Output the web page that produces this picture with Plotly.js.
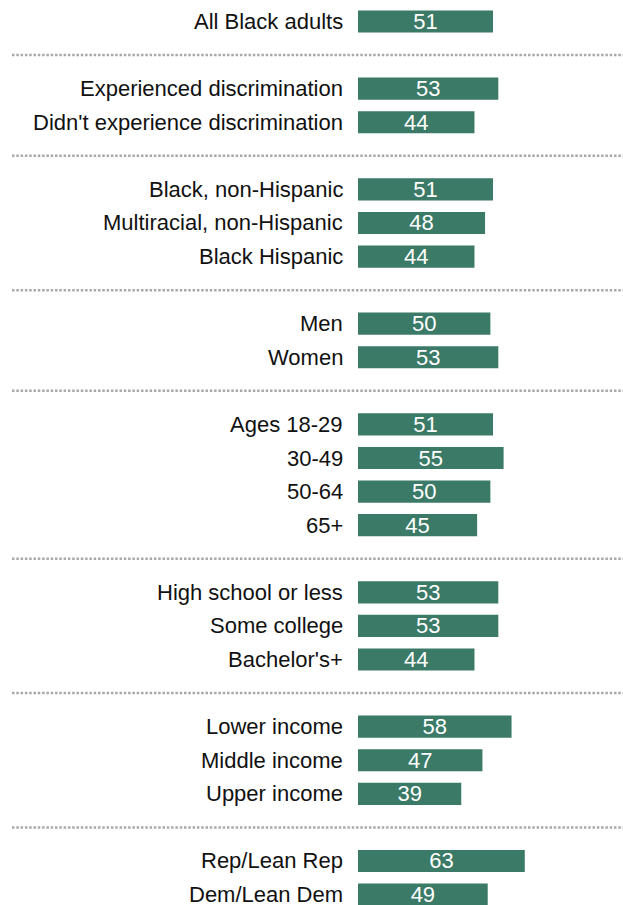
<!DOCTYPE html>
<html>
<head>
<meta charset="utf-8">
<script src="https://cdn.plot.ly/plotly-3.0.1.min.js"></script>
<style>html,body{margin:0;padding:0;background:#fff;}#chart{width:623px;height:905px;}</style>
</head>
<body>
<div id="chart"></div>
<script>
// Groups of categories (each group separated by a dotted rule)
const groupLabels = [
  ["All Black adults"],
  ["Experienced discrimination", "Didn't experience discrimination"],
  ["Black, non-Hispanic", "Multiracial, non-Hispanic", "Black Hispanic"],
  ["Men", "Women"],
  ["Ages 18-29", "30-49", "50-64", "65+"],
  ["High school or less", "Some college", "Bachelor's+"],
  ["Lower income", "Middle income", "Upper income"],
  ["Rep/Lean Rep", "Dem/Lean Dem"]
];
const groupValues = [
  [51],
  [53, 44],
  [51, 48, 44],
  [50, 53],
  [51, 55, 50, 45],
  [53, 53, 44],
  [58, 47, 39],
  [63, 49]
];

// Build categorical axis with blank separator slots between groups
const cats = [], vals = [], labels = [], seps = [];
groupLabels.forEach((g, gi) => {
  if (gi > 0) {
    const key = "sep" + gi;
    cats.push(key); vals.push(null); labels.push(""); seps.push(key);
  }
  g.forEach((lab, li) => {
    cats.push(lab); vals.push(groupValues[gi][li]); labels.push(lab);
  });
});

const FONT = '"Liberation Sans", Arial, sans-serif';
const barColor = "#3a7a67";

const trace = {
  type: "bar",
  orientation: "h",
  y: cats,
  x: vals,
  marker: { color: barColor },
  width: 0.66,
  text: vals.map(v => v === null ? "" : String(v)),
  textposition: "inside",
  insidetextanchor: "middle",
  textangle: 0,
  constraintext: "none",
  textfont: { family: FONT, size: 22, color: "#ffffff" },
  hoverinfo: "none",
  cliponaxis: false
};

const annotations = cats.map((c, i) => labels[i] ? {
  x: 0, xref: "x", y: c, yref: "y",
  text: labels[i], showarrow: false,
  xanchor: "right", yanchor: "middle", xshift: -13,
  font: { family: FONT, size: 22, color: "#111111" }
} : null).filter(a => a);

const shapes = seps.map(s => ({
  type: "line", xref: "paper", yref: "y",
  x0: -346 / 265, x1: 1, y0: s, y1: s,
  line: { color: "#a9a9a9", width: 2.5, dash: "2.5px,1.8px" }
}));

const layout = {
  width: 623, height: 905,
  margin: { l: 358, r: 0, t: 0, b: 0 },
  paper_bgcolor: "#ffffff", plot_bgcolor: "#ffffff",
  showlegend: false,
  xaxis: { range: [0, 100.1], visible: false, fixedrange: true },
  yaxis: {
    type: "category", categoryorder: "array", categoryarray: cats,
    range: [26.311, -0.640], visible: false, fixedrange: true
  },
  annotations: annotations,
  shapes: shapes,
  font: { family: FONT }
};

Plotly.newPlot("chart", [trace], layout, { staticPlot: true, displayModeBar: false });
</script>
</body>
</html>
